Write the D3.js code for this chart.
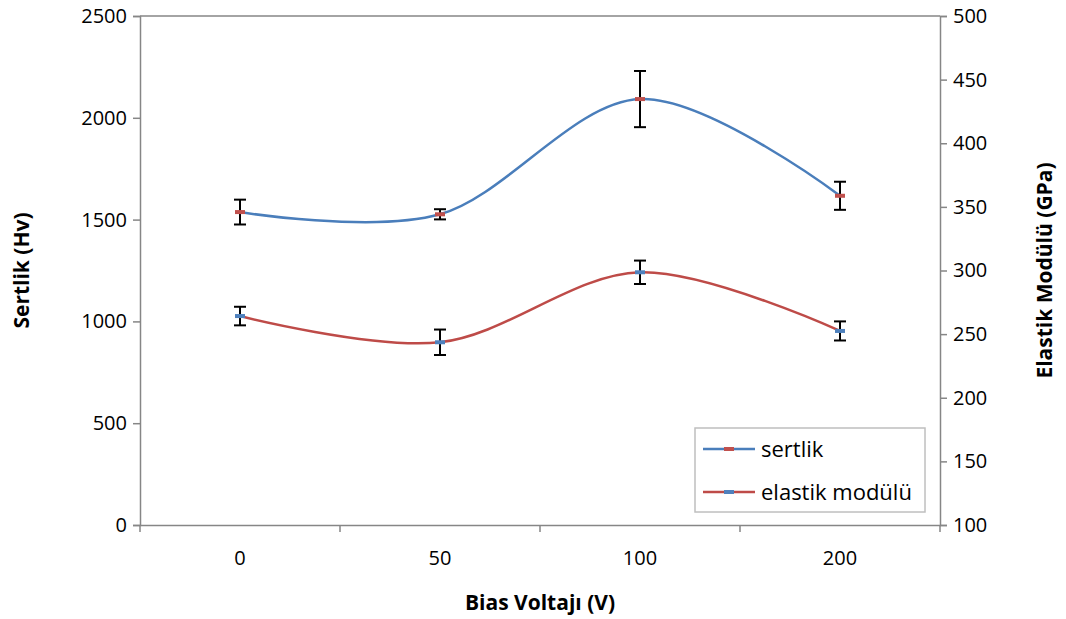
<!DOCTYPE html>
<html>
<head>
<meta charset="utf-8">
<script src="https://cdn.jsdelivr.net/npm/d3@7"></script>
<style>
  body { margin: 0; background: #fff; }
  text { font-family: "Open Sans", sans-serif; fill: #000; }
</style>
</head>
<body>
<div class="chart"></div>
<script>
var categories = ["0", "50", "100", "200"];
var sertlik = [1537, 1526, 2092, 1617];
var sertlikErr = [61, 25, 138, 69];
var elastik = [264.2, 243.6, 298.6, 252.5];
var elastikErr = [7.3, 10, 9.2, 7.5];
var leftTicks = [0, 500, 1000, 1500, 2000, 2500];
var rightTicks = [100, 150, 200, 250, 300, 350, 400, 450, 500];

var svgWidth = 1066;
var svgHeight = 619;
var margin = { top: 16, right: 126, bottom: 94, left: 140 };
var width = svgWidth - margin.left - margin.right;
var height = svgHeight - margin.top - margin.bottom;

var svg = d3.select(".chart").append("svg")
  .attr("width", svgWidth)
  .attr("height", svgHeight);

var chartGroup = svg.append("g")
  .attr("transform", `translate(${margin.left}, ${margin.top})`);

var xBand = d3.scaleBand().domain(categories).range([0, width]);
var xCenter = d => xBand(d) + xBand.bandwidth() / 2;
var yLeft = d3.scaleLinear().domain([0, 2500]).range([height, 0]);
var yRight = d3.scaleLinear().domain([100, 500]).range([height, 0]);

var axisColor = "#868686";

// top border of plot area
chartGroup.append("line")
  .attr("x1", 0).attr("x2", width).attr("y1", 0).attr("y2", 0)
  .attr("stroke", axisColor).attr("stroke-width", 1.5);

// left axis
var leftAxis = chartGroup.append("g")
  .call(d3.axisLeft(yLeft).tickValues(leftTicks).tickFormat(d3.format("d")).tickSize(7).tickPadding(6));
// right axis
var rightAxis = chartGroup.append("g")
  .attr("transform", `translate(${width}, 0)`)
  .call(d3.axisRight(yRight).tickValues(rightTicks).tickFormat(d3.format("d")).tickSize(7).tickPadding(6));
// bottom axis, ticks on category boundaries
var bottomAxis = chartGroup.append("g")
  .attr("transform", `translate(0, ${height})`)
  .call(d3.axisBottom(xBand).tickSize(0).tickPadding(26));
bottomAxis.selectAll(".bnd").data(categories.concat(["end"])).enter()
  .append("line")
  .attr("x1", (d, i) => i * xBand.bandwidth())
  .attr("x2", (d, i) => i * xBand.bandwidth())
  .attr("y1", 0).attr("y2", 7)
  .attr("stroke", axisColor).attr("stroke-width", 1.5);

[leftAxis, rightAxis, bottomAxis].forEach(function(a) {
  a.select(".domain").attr("stroke", axisColor).attr("stroke-width", 1.5);
  a.selectAll(".tick line").attr("stroke", axisColor).attr("stroke-width", 1.5);
  a.selectAll(".tick text").style("font-size", "20px").attr("fill", "#000");
});

var line = d3.line().curve(d3.curveCatmullRom.alpha(0));

function drawSeries(vals, errs, yScale, lineColor, markColor) {
  var pts = vals.map((v, i) => [xCenter(categories[i]), yScale(v)]);
  chartGroup.append("path")
    .attr("d", line(pts))
    .attr("fill", "none")
    .attr("stroke", lineColor)
    .attr("stroke-width", 2.5);

  var eb = chartGroup.append("g").selectAll("g")
    .data(vals).enter().append("g");
  eb.append("line")
    .attr("x1", (d, i) => xCenter(categories[i]))
    .attr("x2", (d, i) => xCenter(categories[i]))
    .attr("y1", (d, i) => yScale(d + errs[i]))
    .attr("y2", (d, i) => yScale(d - errs[i]))
    .attr("stroke", "#000").attr("stroke-width", 2);
  [1, -1].forEach(function(s) {
    eb.append("line")
      .attr("x1", (d, i) => xCenter(categories[i]) - 6)
      .attr("x2", (d, i) => xCenter(categories[i]) + 6)
      .attr("y1", (d, i) => yScale(d + s * errs[i]))
      .attr("y2", (d, i) => yScale(d + s * errs[i]))
      .attr("stroke", "#000").attr("stroke-width", 2);
  });
  eb.append("rect")
    .attr("x", (d, i) => xCenter(categories[i]) - 5)
    .attr("y", d => yScale(d) - 2)
    .attr("width", 10).attr("height", 4)
    .attr("fill", markColor);
}

drawSeries(sertlik, sertlikErr, yLeft, "#4a7ebb", "#c0504d");
drawSeries(elastik, elastikErr, yRight, "#be4b48", "#4f81bd");

// legend
var legend = svg.append("g").attr("transform", "translate(695, 428)");
legend.append("rect")
  .attr("width", 230).attr("height", 84)
  .attr("fill", "#fff").attr("stroke", "#bfbfbf").attr("stroke-width", 1.5);
var legendItems = [
  { name: "sertlik", line: "#4a7ebb", mark: "#c0504d", y: 21 },
  { name: "elastik modülü", line: "#be4b48", mark: "#4f81bd", y: 64 }
];
legendItems.forEach(function(it) {
  legend.append("line")
    .attr("x1", 8).attr("x2", 60).attr("y1", it.y).attr("y2", it.y)
    .attr("stroke", it.line).attr("stroke-width", 2.5);
  legend.append("rect")
    .attr("x", 29).attr("y", it.y - 2).attr("width", 10).attr("height", 4)
    .attr("fill", it.mark);
  legend.append("text")
    .attr("x", 66).attr("y", it.y).attr("dy", "0.35em")
    .style("font-size", "22px")
    .text(it.name);
});

// axis titles
svg.append("text")
  .attr("transform", `translate(22, ${margin.top + height / 2}) rotate(-90)`)
  .attr("text-anchor", "middle").attr("dy", "0.35em")
  .style("font-size", "21px").style("font-weight", "bold")
  .text("Sertlik (Hv)");
svg.append("text")
  .attr("transform", `translate(1045, ${margin.top + height / 2}) rotate(-90)`)
  .attr("text-anchor", "middle").attr("dy", "0.35em")
  .style("font-size", "21px").style("font-weight", "bold")
  .text("Elastik Modülü (GPa)");
svg.append("text")
  .attr("x", margin.left + width / 2).attr("y", 603)
  .attr("text-anchor", "middle").attr("dy", "0.35em")
  .style("font-size", "21px").style("font-weight", "bold")
  .text("Bias Voltajı (V)");
</script>
</body>
</html>
